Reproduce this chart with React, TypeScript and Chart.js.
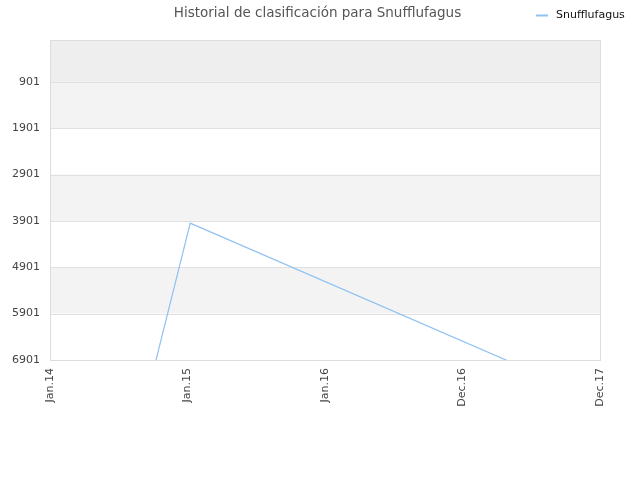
import React, { useEffect, useRef } from "react";
import { Chart, registerables } from "chart.js";

Chart.register(...registerables);

const titleText = "Historial de clasificación para Snufflufagus";
const seriesName = "Snufflufagus";
const xLabels = ["Jan.14", "Jan.15", "Jan.16", "Dec.16", "Dec.17"];
const yTicks = [901, 1901, 2901, 3901, 4901, 5901, 6901];
const xPos = [0.7, 1.02, 4];
const rankValues = [7742, 3950, 7780];
const bandColors = ["#eeeeee", "#f3f3f3", "#ffffff", "#f3f3f3", "#ffffff", "#f3f3f3", "#ffffff"];

const FONT = "'DejaVu Sans', Verdana, sans-serif";
const LINE_COLOR = "#8fc1f2";

export default function App() {
  const ref = useRef<HTMLCanvasElement | null>(null);
  useEffect(() => {
    document.body.style.margin = "0";
    const canvas = ref.current!;
    const bgPlugin = {
      id: "bands",
      beforeDatasetsDraw(chart: any) {
        const { ctx, chartArea: a, scales } = chart;
        const y = scales.y;
        const bounds = [y.min, ...yTicks];
        ctx.save();
        for (let i = 0; i < bounds.length - 1; i++) {
          const p0 = y.getPixelForValue(bounds[i]);
          const p1 = y.getPixelForValue(bounds[i + 1]);
          ctx.fillStyle = bandColors[i];
          ctx.fillRect(a.left, p0, a.right - a.left, p1 - p0);
        }
        ctx.strokeStyle = "#e0e0e0";
        ctx.lineWidth = 1;
        for (const v of yTicks) {
          const p = Math.round(y.getPixelForValue(v)) + 0.5;
          ctx.beginPath();
          ctx.moveTo(a.left, p);
          ctx.lineTo(a.right, p);
          ctx.stroke();
        }
        ctx.strokeStyle = "#dddddd";
        ctx.strokeRect(Math.round(a.left) + 0.5, Math.round(a.top) + 0.5, Math.round(a.right - a.left), Math.round(a.bottom - a.top));
        ctx.restore();
      },
      afterDraw(chart: any) {
        const { ctx } = chart;
        ctx.save();
        ctx.font = `13.5px ${FONT}`;
        ctx.fillStyle = "#555555";
        ctx.textAlign = "center";
        ctx.textBaseline = "middle";
        ctx.fillText(titleText, 317.5, 13);
        ctx.strokeStyle = LINE_COLOR;
        ctx.lineWidth = 2;
        ctx.beginPath();
        ctx.moveTo(536, 15.5);
        ctx.lineTo(548, 15.5);
        ctx.stroke();
        ctx.font = `11px ${FONT}`;
        ctx.fillStyle = "#111111";
        ctx.textAlign = "left";
        ctx.fillText(seriesName, 556, 15);
        ctx.restore();
      },
    };
    const chart = new Chart(canvas, {
      type: "line",
      data: {
        datasets: [
          {
            label: seriesName,
            data: xPos.map((x, i) => ({ x, y: rankValues[i] })),
            borderColor: LINE_COLOR,
            borderWidth: 1.2,
            pointRadius: 0,
            tension: 0,
            fill: false,
          },
        ],
      },
      options: {
        animation: false,
        responsive: false,
        layout: { padding: { top: 40, right: 40, left: 0, bottom: 0 } },
        plugins: { legend: { display: false }, title: { display: false }, tooltip: { enabled: false } },
        scales: {
          x: {
            type: "linear",
            min: 0,
            max: 4,
            grid: { display: false, drawTicks: false },
            border: { display: false },
            afterBuildTicks: (s: any) => {
              s.ticks = xLabels.map((_, i) => ({ value: i }));
            },
            afterFit: (s: any) => {
              s.height = 120;
            },
            ticks: {
              minRotation: 90,
              maxRotation: 90,
              padding: 8,
              autoSkip: false,
              color: "#444444",
              font: { family: FONT, size: 11 },
              callback: (v: any) => xLabels[Math.round(Number(v))] ?? "",
            },
          },
          y: {
            type: "linear",
            reverse: true,
            min: 0,
            max: 6901,
            grid: { display: false, drawTicks: false },
            border: { display: false },
            afterBuildTicks: (s: any) => {
              s.ticks = yTicks.map((v) => ({ value: v }));
            },
            afterFit: (s: any) => {
              s.width = 50;
            },
            ticks: {
              padding: 10,
              color: "#444444",
              font: { family: FONT, size: 11 },
              callback: (v: any) => String(v),
            },
          },
        },
      },
      plugins: [bgPlugin],
    });
    return () => chart.destroy();
  }, []);
  return (
    <div style={{ width: 640, height: 480 }}>
      <canvas ref={ref} width={640} height={480} />
    </div>
  );
}
